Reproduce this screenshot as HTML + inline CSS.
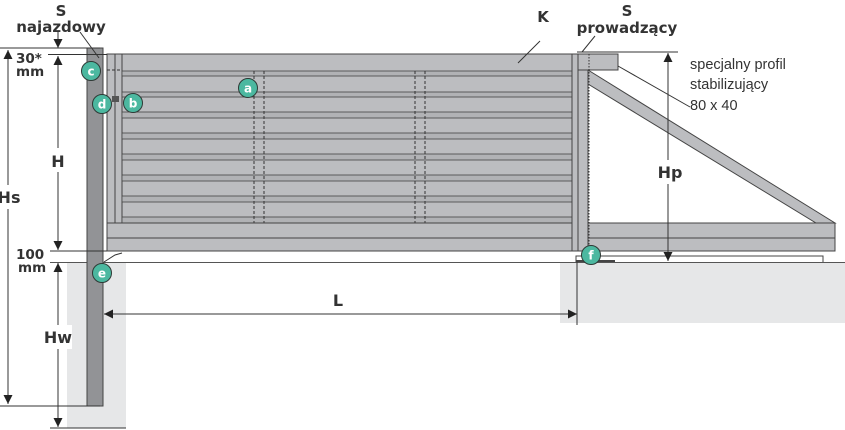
<!DOCTYPE html>
<html><head><meta charset="utf-8"><style>
html,body{margin:0;padding:0;background:#fff;width:845px;height:430px;overflow:hidden}
svg{display:block}
.b{font-family:"DejaVu Sans","Liberation Sans",sans-serif;font-weight:bold;fill:#333}
.r{font-family:"Liberation Sans","DejaVu Sans",sans-serif;fill:#333;font-size:14.5px}
.ct{font-family:"DejaVu Sans",sans-serif;font-weight:bold;fill:#fff;font-size:12px;text-anchor:middle}
</style></head><body>
<svg width="845" height="430" viewBox="0 0 845 430" xmlns="http://www.w3.org/2000/svg">
<defs>
<marker id="ar" viewBox="0 0 10 10" refX="10" refY="5" markerWidth="9" markerHeight="9" orient="auto-start-reverse" markerUnits="userSpaceOnUse"><path d="M0,0 L10,5 L0,10z" fill="#222"/></marker>
</defs>
<!-- ground blocks -->
<rect x="67" y="262" width="59" height="166" fill="#e6e7e8"/>
<rect x="560" y="262" width="285" height="61" fill="#e6e7e8"/>
<!-- ground line -->
<line x1="45" y1="262.5" x2="845" y2="262.5" stroke="#555" stroke-width="1"/>
<!-- rail -->
<polyline points="576,262 576,256 823,256 823,262" fill="none" stroke="#444" stroke-width="1"/>
<line x1="576" y1="261" x2="615" y2="261" stroke="#444" stroke-width="2"/>
<!-- diagonal brace -->
<polygon points="588,70 835,223 816,223 588,84" fill="#bcbdc0" stroke="#444" stroke-width="1"/>
<!-- gate frame -->
<rect x="107" y="54" width="465" height="169" fill="#bcbdc0" stroke="#444" stroke-width="1"/>
<g stroke="#444" stroke-width="1" fill="none">
<line x1="115" y1="54" x2="115" y2="223"/>
<line x1="122" y1="54" x2="122" y2="223"/>
</g>
<g fill="#b1b2b5" stroke="#444" stroke-width="0.8">
<rect x="122" y="71" width="450" height="5"/>
<rect x="122" y="92" width="450" height="5"/>
<rect x="122" y="112" width="450" height="6"/>
<rect x="122" y="133" width="450" height="6"/>
<rect x="122" y="154" width="450" height="6"/>
<rect x="122" y="175" width="450" height="6"/>
<rect x="122" y="196" width="450" height="6"/>
<rect x="122" y="217" width="450" height="6"/>
</g>
<g stroke="#333" stroke-width="1" stroke-dasharray="3,2">
<line x1="254" y1="71" x2="254" y2="223"/><line x1="264" y1="71" x2="264" y2="223"/>
<line x1="415" y1="71" x2="415" y2="223"/><line x1="425" y1="71" x2="425" y2="223"/>
<line x1="107" y1="70" x2="122" y2="70"/>
<line x1="572" y1="70" x2="590" y2="70"/>
</g>
<!-- bottom beam -->
<rect x="107" y="223" width="728" height="28" fill="#bcbdc0" stroke="#444" stroke-width="1"/>
<line x1="107" y1="238" x2="835" y2="238" stroke="#444" stroke-width="1"/>
<!-- right post -->
<rect x="572" y="54" width="6" height="197" fill="#bcbdc0" stroke="#444" stroke-width="1"/>
<rect x="578" y="54" width="10" height="197" fill="#bcbdc0" stroke="#444" stroke-width="1"/>
<rect x="578" y="54" width="40" height="16" fill="#bcbdc0" stroke="#444" stroke-width="1"/>
<line x1="589" y1="54" x2="589" y2="250" stroke="#333" stroke-width="1" stroke-dasharray="1.5,1.5"/>
<!-- left post -->
<rect x="87" y="48" width="16" height="358" fill="#929396" stroke="#444" stroke-width="1"/>
<rect x="112" y="96" width="7" height="6" fill="#555"/>
<rect x="106" y="105" width="4" height="5" fill="#222"/>
<!-- dimension lines -->
<g stroke="#333" stroke-width="1" fill="none">
<line x1="0" y1="48" x2="100" y2="48"/>
<line x1="45" y1="54.5" x2="107" y2="54.5"/>
<line x1="45" y1="251" x2="107" y2="251"/>
<line x1="0" y1="406" x2="100" y2="406"/>
<line x1="50" y1="428" x2="126" y2="428"/>
<line x1="577" y1="52" x2="678" y2="52"/>
<line x1="8" y1="50" x2="8" y2="404" marker-start="url(#ar)" marker-end="url(#ar)"/>
<line x1="58" y1="32" x2="58" y2="48" marker-end="url(#ar)"/>
<line x1="58" y1="56" x2="58" y2="250" marker-start="url(#ar)" marker-end="url(#ar)"/>
<line x1="58" y1="263" x2="58" y2="427" marker-start="url(#ar)" marker-end="url(#ar)"/>
<line x1="104" y1="314" x2="577" y2="314" marker-start="url(#ar)" marker-end="url(#ar)"/>
<line x1="577" y1="262" x2="577" y2="325"/>
<line x1="668" y1="53" x2="668" y2="261" marker-start="url(#ar)" marker-end="url(#ar)"/>
<!-- leaders -->
<line x1="80" y1="32" x2="99" y2="58"/>
<line x1="518" y1="63" x2="540" y2="41"/>
<line x1="582" y1="52" x2="595" y2="36"/>
<line x1="618" y1="66" x2="690" y2="107"/>
<polyline points="104,262 115,255 122,253"/>
</g>
<!-- label backgrounds -->
<rect x="48" y="148" width="20" height="24" fill="#fff"/>
<rect x="0" y="185" width="22" height="24" fill="#fff"/>
<rect x="44" y="325" width="28" height="24" fill="#fff"/>
<rect x="655" y="160" width="28" height="24" fill="#fff"/>
<rect x="325" y="290" width="25" height="20" fill="#fff"/>
<rect x="14" y="52" width="34" height="26" fill="#fff"/>
<rect x="14" y="246" width="36" height="26" fill="#fff"/>
<!-- text -->
<text class="b" x="61" y="16" font-size="15" text-anchor="middle">S</text>
<text class="b" x="61" y="32" font-size="15" text-anchor="middle">najazdowy</text>
<text class="b" x="543" y="22" font-size="15" text-anchor="middle">K</text>
<text class="b" x="627" y="16" font-size="15" text-anchor="middle">S</text>
<text class="b" x="627" y="33" font-size="15" text-anchor="middle">prowadzący</text>
<text class="b" x="16" y="63" font-size="13.5">30*</text>
<text class="b" x="16" y="76" font-size="13.5">mm</text>
<text class="b" x="16" y="259" font-size="13.5">100</text>
<text class="b" x="18" y="272" font-size="13.5">mm</text>
<text class="b" x="58" y="167" font-size="16" text-anchor="middle">H</text>
<text class="b" x="9" y="203" font-size="16" text-anchor="middle">Hs</text>
<text class="b" x="58" y="343" font-size="16" text-anchor="middle">Hw</text>
<text class="b" x="338" y="306" font-size="16" text-anchor="middle">L</text>
<text class="b" x="670" y="178" font-size="16" text-anchor="middle">Hp</text>
<text class="r" x="690" y="69">specjalny profil</text>
<text class="r" x="690" y="89">stabilizujący</text>
<text class="r" x="690" y="110">80 x 40</text>
<!-- circles -->
<g fill="#4cb8a0" stroke="#2e3a36" stroke-width="1">
<circle cx="91" cy="71" r="9.5"/><circle cx="102" cy="104" r="9.5"/>
<circle cx="133" cy="103" r="9.5"/><circle cx="248" cy="88" r="9.5"/>
<circle cx="102" cy="273" r="9.5"/><circle cx="591" cy="255" r="9.5"/>
</g>
<text class="ct" x="91" y="75.5">c</text>
<text class="ct" x="102" y="108.5">d</text>
<text class="ct" x="133" y="107.5">b</text>
<text class="ct" x="248" y="92.5">a</text>
<text class="ct" x="102" y="277.5">e</text>
<text class="ct" x="591" y="259.5">f</text>
</svg>
</body></html>
